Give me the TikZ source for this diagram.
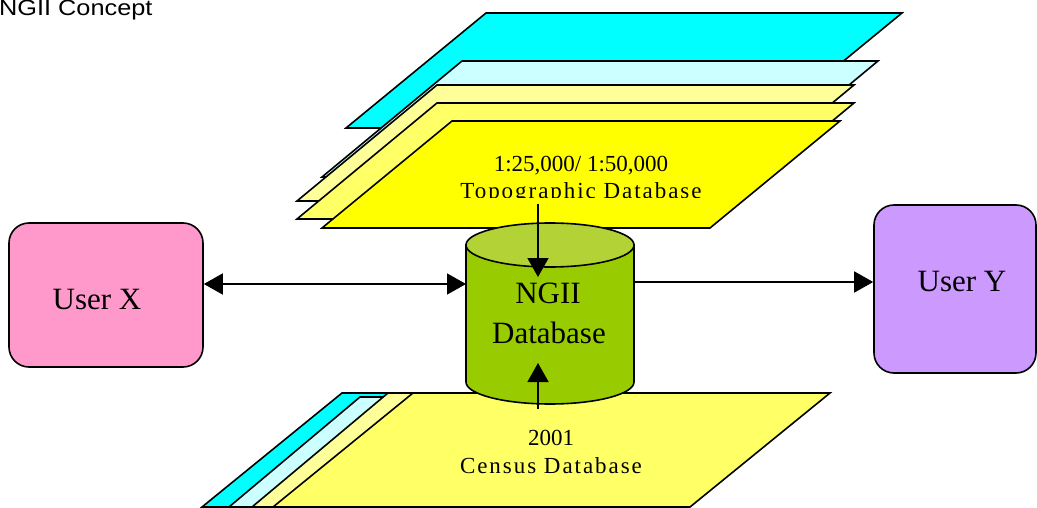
\documentclass[tikz,border=0pt]{standalone}
\usepackage{fontspec}
\setmainfont{Liberation Serif}
\newfontfamily\titlefont{Liberation Sans}
\newfontfamily\spacedserif[LetterSpace=8.5]{Liberation Serif}
\usetikzlibrary{arrows.meta}

\definecolor{layerCyan}{HTML}{00FFFF}
\definecolor{layerLightCyan}{HTML}{CCFFFF}
\definecolor{layerPale}{HTML}{FFFF99}
\definecolor{layerMid}{HTML}{FFFF66}
\definecolor{layerYellow}{HTML}{FFFF00}
\definecolor{dbBody}{HTML}{99CC00}
\definecolor{dbTop}{HTML}{B2D235}
\definecolor{userPink}{HTML}{FF99CC}
\definecolor{userViolet}{HTML}{CC99FF}

% sheet: top-left x, top y, width, height, shear, fill colour
\newcommand\drawsheet[6]{%
  \filldraw[sheetline, fill=#6]
    (#1,#2) -- ++(#3,0) -- ++(-#5,#4) -- ++(-#3,0) -- cycle;}

\begin{document}
\begin{tikzpicture}[x=1pt, y=-1pt,
  sheetline/.style={draw=black, line width=1.6, line join=miter},
  userbox/.style={draw=black, line width=1.6, rounded corners=20, inner sep=0},
  bigtext/.style={font=\fontsize{31}{36}\selectfont, inner sep=0, anchor=base},
  layertext/.style={font=\fontsize{23}{27}\selectfont, inner sep=0, anchor=base},
  spacedtext/.style={font=\spacedserif\fontsize{23}{27}\selectfont, inner sep=0, anchor=base},
  arr/.style={line width=1.6, -{Triangle[length=19, width=21]}},
  dblarr/.style={line width=1.6, {Triangle[length=19, width=21]}-{Triangle[length=19, width=21]}}]

\useasboundingbox (0,0) rectangle (1037,508);

% title
\node[anchor=base west, inner sep=0, font=\titlefont\fontsize{22}{26}\selectfont]
  (title) at (-1,16) {\scalebox{1.15}[1]{NGII Concept}};

% topographic layers, back to front
\drawsheet{486}{13}{416}{115}{140}{layerCyan}
\drawsheet{462}{61}{416}{116}{140}{layerLightCyan}
\drawsheet{437}{85}{417}{116}{140}{layerPale}
\drawsheet{437}{103}{417}{116}{140}{layerMid}
\drawsheet{452}{121}{388}{107}{130}{layerYellow}

\node[layertext] (topoA) at (581,172) {1:25,000/ 1:50,000};
\begin{scope}
  \clip (400,100) rectangle (760,198);
  \node[spacedtext] (topoB) at (581,199) {Topographic Database};
\end{scope}

% census layers, back to front
\drawsheet{342}{393}{417}{114}{140}{layerCyan}
\drawsheet{360}{397}{417}{110}{131}{layerLightCyan}
\drawsheet{388}{393}{417}{114}{136}{layerPale}
\drawsheet{413}{393}{417}{114}{140}{layerMid}

\node[layertext] (censusA) at (551,445) {2001};
\node[spacedtext] (censusB) at (551,473) {Census Database};

% database cylinder
\filldraw[sheetline, fill=dbBody]
  (466,245) -- (466,382) arc[start angle=180, end angle=360, x radius=84, y radius=-22]
  -- (634,245) -- cycle;
\filldraw[sheetline, fill=dbTop] (550,245) ellipse[x radius=84, y radius=22];
\node[bigtext] (ngiiA) at (548,303) {NGII};
\node[bigtext] (ngiiB) at (549,343) {Database};

% users
\node[userbox, fill=userPink, minimum width=194, minimum height=144]
  (ux) at (106,295) {};
\node[bigtext] (uxlabel) at (97,309) {User X};
\node[userbox, fill=userViolet, minimum width=162, minimum height=168]
  (uy) at (955,289) {};
\node[bigtext] (uylabel) at (962,291) {User Y};

% connector end points on the cylinder and in the layers
\coordinate (dbIn) at (466,284);
\coordinate (dbOut) at (634,282);
\coordinate (topoFoot) at (538,204);
\coordinate (dbTopIn) at (538,277);
\coordinate (censusHead) at (538,409);
\coordinate (dbBotIn) at (538,363);

% connectors
\draw[dblarr] (ux.east |- dbIn) -- (dbIn);
\draw[arr] (dbOut) -- (uy.west |- dbOut);
\draw[arr] (topoFoot) -- (dbTopIn);
\draw[arr] (censusHead) -- (dbBotIn);
\end{tikzpicture}
\end{document}
